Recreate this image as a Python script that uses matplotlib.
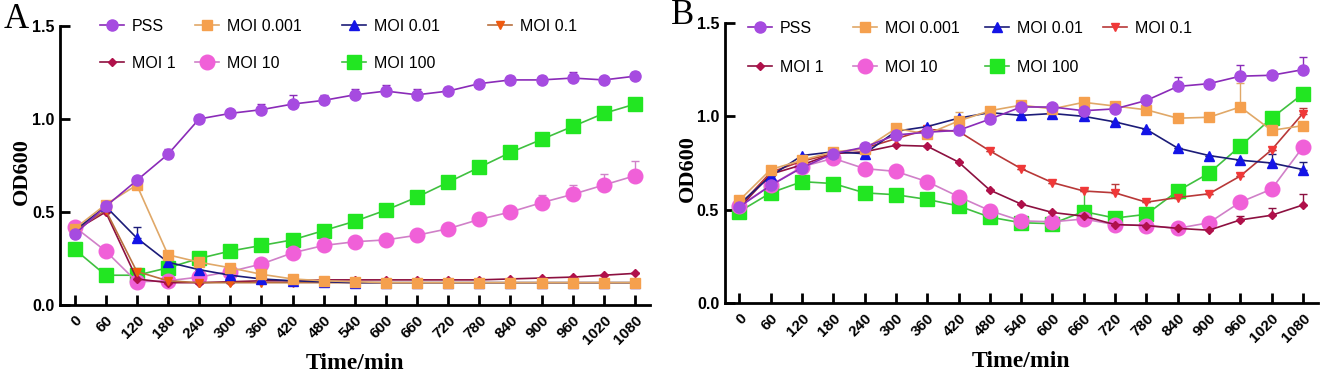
# OD600 growth curves, two panels (A, B)

import numpy as np
import matplotlib.pyplot as plt
from matplotlib.lines import Line2D
from matplotlib.legend import Legend

time = [0, 60, 120, 180, 240, 300, 360, 420, 480, 540, 600, 660, 720, 780, 840, 900, 960, 1020, 1080]
labels = ["PSS", "MOI 0.001", "MOI 0.01", "MOI 0.1", "MOI 1", "MOI 10", "MOI 100"]

# panel A means
a_pss   = [0.38, 0.53, 0.67, 0.81, 1.00, 1.03, 1.05, 1.08, 1.10, 1.13, 1.15, 1.13, 1.15, 1.19, 1.21, 1.21, 1.22, 1.21, 1.23]
a_m0001 = [0.41, 0.54, 0.645, 0.27, 0.23, 0.20, 0.165, 0.14, 0.13, 0.125, 0.12, 0.12, 0.12, 0.12, 0.12, 0.12, 0.12, 0.12, 0.12]
a_m001  = [0.40, 0.53, 0.36, 0.23, 0.19, 0.16, 0.14, 0.13, 0.125, 0.12, 0.12, 0.12, 0.12, 0.12, 0.12, 0.12, 0.12, 0.12, 0.12]
a_m01   = [0.40, 0.51, 0.18, 0.13, 0.12, 0.12, 0.12, 0.12, 0.12, 0.12, 0.12, 0.12, 0.12, 0.12, 0.12, 0.12, 0.12, 0.12, 0.12]
a_m1    = [0.40, 0.50, 0.14, 0.12, 0.12, 0.125, 0.13, 0.13, 0.135, 0.135, 0.135, 0.135, 0.135, 0.135, 0.14, 0.145, 0.15, 0.16, 0.17]
a_m10   = [0.42, 0.29, 0.125, 0.13, 0.15, 0.18, 0.22, 0.28, 0.32, 0.34, 0.35, 0.375, 0.41, 0.46, 0.50, 0.55, 0.595, 0.645, 0.695]
a_m100  = [0.30, 0.16, 0.16, 0.20, 0.25, 0.29, 0.32, 0.35, 0.40, 0.45, 0.51, 0.58, 0.66, 0.74, 0.82, 0.89, 0.96, 1.03, 1.08]

# panel A upper error
a_pss_e   = [0.0, 0.0, 0.0, 0.03, 0.02, 0.02, 0.03, 0.05, 0.03, 0.03, 0.03, 0.03, 0.02, 0.0, 0.02, 0.02, 0.03, 0.0, 0.02]
a_m0001_e = [0.0] * 19
a_m001_e  = [0.0, 0.0, 0.06, 0.0, 0.0, 0.0, 0.0, 0.0, 0.0, 0.0, 0.0, 0.0, 0.0, 0.0, 0.0, 0.0, 0.0, 0.0, 0.0]
a_m01_e   = [0.0] * 19
a_m1_e    = [0.0] * 19
a_m10_e   = [0.0, 0.0, 0.0, 0.0, 0.0, 0.0, 0.0, 0.0, 0.0, 0.0, 0.0, 0.0, 0.0, 0.02, 0.03, 0.04, 0.05, 0.06, 0.08]
a_m100_e  = [0.0, 0.0, 0.0, 0.0, 0.0, 0.0, 0.0, 0.0, 0.0, 0.0, 0.0, 0.0, 0.0, 0.0, 0.02, 0.03, 0.02, 0.03, 0.03]

# panel B means
b_pss   = [0.515, 0.63, 0.725, 0.80, 0.835, 0.90, 0.915, 0.925, 0.985, 1.05, 1.05, 1.03, 1.04, 1.085, 1.16, 1.175, 1.215, 1.22, 1.25]
b_m0001 = [0.55, 0.715, 0.765, 0.81, 0.825, 0.935, 0.905, 0.975, 1.03, 1.06, 1.04, 1.075, 1.055, 1.035, 0.99, 0.995, 1.05, 0.925, 0.95]
b_m001  = [0.53, 0.68, 0.79, 0.81, 0.80, 0.92, 0.945, 0.99, 1.02, 1.005, 1.015, 1.00, 0.97, 0.93, 0.83, 0.79, 0.765, 0.75, 0.715]
b_m01   = [0.52, 0.70, 0.76, 0.80, 0.83, 0.88, 0.93, 0.92, 0.815, 0.72, 0.645, 0.60, 0.59, 0.54, 0.565, 0.585, 0.68, 0.82, 1.015]
b_m1    = [0.51, 0.69, 0.74, 0.80, 0.81, 0.845, 0.84, 0.755, 0.605, 0.53, 0.485, 0.465, 0.42, 0.415, 0.40, 0.39, 0.445, 0.47, 0.525]
b_m10   = [0.52, 0.63, 0.73, 0.775, 0.72, 0.705, 0.65, 0.57, 0.495, 0.44, 0.435, 0.45, 0.42, 0.415, 0.40, 0.43, 0.54, 0.61, 0.835]
b_m100  = [0.49, 0.59, 0.65, 0.64, 0.59, 0.58, 0.555, 0.52, 0.46, 0.43, 0.425, 0.49, 0.455, 0.475, 0.60, 0.695, 0.84, 0.99, 1.12]

# panel B upper error
b_pss_e   = [0.0, 0.0, 0.0, 0.0, 0.02, 0.0, 0.0, 0.0, 0.0, 0.0, 0.0, 0.0, 0.0, 0.0, 0.05, 0.0, 0.06, 0.02, 0.07]
b_m0001_e = [0.0, 0.0, 0.0, 0.0, 0.0, 0.0, 0.0, 0.05, 0.0, 0.0, 0.0, 0.0, 0.0, 0.0, 0.0, 0.0, 0.13, 0.0, 0.0]
b_m001_e  = [0.0, 0.0, 0.0, 0.0, 0.0, 0.0, 0.0, 0.0, 0.0, 0.0, 0.0, 0.0, 0.0, 0.0, 0.0, 0.0, 0.0, 0.05, 0.04]
b_m01_e   = [0.0, 0.0, 0.0, 0.0, 0.0, 0.0, 0.0, 0.0, 0.0, 0.0, 0.0, 0.0, 0.05, 0.0, 0.0, 0.0, 0.0, 0.0, 0.03]
b_m1_e    = [0.0, 0.0, 0.0, 0.0, 0.0, 0.0, 0.0, 0.0, 0.0, 0.0, 0.0, 0.0, 0.0, 0.0, 0.0, 0.0, 0.02, 0.04, 0.06]
b_m10_e   = [0.0, 0.0, 0.0, 0.0, 0.0, 0.0, 0.0, 0.0, 0.03, 0.0, 0.0, 0.0, 0.0, 0.0, 0.0, 0.0, 0.0, 0.0, 0.0]
b_m100_e  = [0.0, 0.0, 0.0, 0.0, 0.0, 0.0, 0.0, 0.0, 0.0, 0.0, 0.0, 0.12, 0.0, 0.0, 0.03, 0.0, 0.0, 0.03, 0.0]

# line colour, marker face colour, marker, size
styles_a = [
    ("#8A2BB8", "#A64BE0", "o", 8),
    ("#E0A868", "#F5A04E", "s", 7.5),
    ("#1C1C78", "#1414E6", "^", 7),
    ("#B8703E", "#F05A10", "v", 6),
    ("#8C1040", "#B0104A", "D", 4.5),
    ("#D080C8", "#F060D8", "o", 10.5),
    ("#40C040", "#22E622", "s", 9.5),
]
styles_b = list(styles_a)
styles_b[3] = ("#B83838", "#F03838", "v", 6)

# legend columns (series indices, top row first)
leg_cols = [[0, 4], [1, 5], [2, 6], [3]]

W, H = 1325, 382


def draw_panel(fig, rect, letter, means, errs, styles, letter_pos, col_x, leg_top, lspace, ylab_x):
    ax = fig.add_axes(rect)
    n = len(labels)
    # later series first, so PSS ends up on top
    for i in reversed(range(n)):
        lc, fc, mk, ms = styles[i]
        e = np.array(errs[i])
        ax.errorbar(time, means[i], yerr=[np.zeros_like(e), e], color=lc, lw=1.2,
                    marker=mk, ms=ms, mfc=fc, mec=fc, capsize=3, elinewidth=1.0,
                    capthick=1.0)
    ax.set_xlim(-28, 1109)
    ax.set_ylim(0, 1.5)
    ax.set_xticks(time)
    ax.set_xticklabels([str(t) for t in time], rotation=45, ha="right",
                       rotation_mode="anchor", fontweight="bold", fontsize=11,
                       family="Liberation Sans")
    ax.set_yticks([0, 0.5, 1.0, 1.5])
    ax.set_yticklabels(["0.0", "0.5", "1.0", "1.5"], fontweight="bold",
                       fontsize=11.5, family="Liberation Sans")
    for s in ("top", "right"):
        ax.spines[s].set_visible(False)
    for s in ("left", "bottom"):
        ax.spines[s].set_linewidth(2)
    ax.tick_params(axis="both", width=2, length=7, direction="in")
    ax.tick_params(axis="y", pad=4)
    ax.tick_params(axis="x", pad=6)
    ax.set_xlabel("Time/min", family="Liberation Serif", fontweight="bold",
                  fontsize=17)
    ax.xaxis.set_label_coords(0.5, -0.21)
    ax.xaxis.label.set_va("center")
    ax.set_ylabel("OD600", family="Liberation Serif", fontweight="bold",
                  fontsize=16)
    ax.yaxis.set_label_coords(ylab_x, 0.48)
    ax.yaxis.label.set_va("center")

    # one legend per column, to match the uneven column gaps
    for cx, col in zip(col_x, leg_cols):
        hs = []
        for i in col:
            lc, fc, mk, ms = styles[i]
            hs.append(Line2D([], [], color=lc, lw=1.2, marker=mk, ms=ms, mfc=fc, mec=fc))
        leg = Legend(ax, hs, [labels[i] for i in col], frameon=False,
                     loc="upper left", bbox_to_anchor=(cx / W, 1 - leg_top / H),
                     bbox_transform=fig.transFigure, borderaxespad=0, borderpad=0,
                     prop={"family": "Liberation Sans", "size": 11.5},
                     handlelength=1.5, labelspacing=lspace, handletextpad=0.5)
        ax.add_artist(leg)
    fig.text(letter_pos[0] / W, 1 - letter_pos[1] / H, letter, family="Liberation Serif",
             fontsize=25, va="center", ha="left")
    return ax


fig = plt.figure(figsize=(W / 100, H / 100), dpi=100)
draw_panel(fig, [0.0453, 0.2016, 0.4453, 0.7304], "A",
           [a_pss, a_m0001, a_m001, a_m01, a_m1, a_m10, a_m100],
           [a_pss_e, a_m0001_e, a_m001_e, a_m01_e, a_m1_e, a_m10_e, a_m100_e],
           styles_a, (4, 20), [100, 195, 342, 488], 19, 1.35, -0.064)
draw_panel(fig, [0.547, 0.2068, 0.4477, 0.733], "B",
           [b_pss, b_m0001, b_m001, b_m01, b_m1, b_m10, b_m100],
           [b_pss_e, b_m0001_e, b_m001_e, b_m01_e, b_m1_e, b_m10_e, b_m100_e],
           styles_b, (671, 16), [748, 853, 985, 1103], 21, 1.5, -0.062)
fig.savefig("out.png", dpi=100)
